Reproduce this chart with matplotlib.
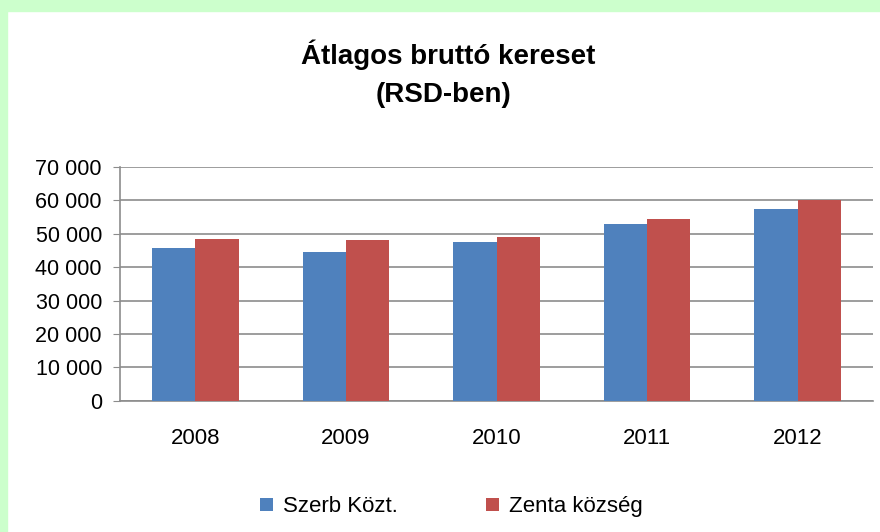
import matplotlib.pyplot as plt
import numpy as np
from matplotlib.patches import Rectangle
from matplotlib.ticker import FuncFormatter

years = ["2008", "2009", "2010", "2011", "2012"]
szerb = [45800, 44600, 47400, 53000, 57500]
zenta = [48500, 48000, 49100, 54300, 60000]
series_names = ["Szerb Közt.", "Zenta község"]
colors = ["#4F81BD", "#C0504D"]

plt.rcParams["font.family"] = ["Liberation Sans", "DejaVu Sans"]

fig = plt.figure(figsize=(8.8, 5.32), dpi=100)

# green frame on top and left
fig.patches.append(Rectangle((0, 1 - 11 / 532), 1, 11 / 532, transform=fig.transFigure,
                             color="#CCFFCC", zorder=0))
fig.patches.append(Rectangle((0, 0), 7 / 880, 1, transform=fig.transFigure,
                             color="#CCFFCC", zorder=0))

ax = fig.add_axes([120 / 880, 1 - 400.7 / 532, 753 / 880, 233.7 / 532])

x = np.arange(len(years))
w = 0.288
ax.bar(x - w / 2, szerb, w, color=colors[0], label=series_names[0], zorder=3)
ax.bar(x + w / 2, zenta, w, color=colors[1], label=series_names[1], zorder=3)

ax.set_xlim(-0.5, len(years) - 0.5)
ax.set_ylim(0, 70000)
ax.set_yticks(range(0, 70001, 10000))
ax.yaxis.set_major_formatter(FuncFormatter(lambda v, p: f"{int(v):,}".replace(",", " ")))
ax.set_xticks(x)
ax.set_xticklabels(years)
ax.grid(axis="y", color="#8C8C8C", linewidth=1.2, zorder=0)

for side in ["top", "right"]:
    ax.spines[side].set_visible(False)
for side in ["left", "bottom"]:
    ax.spines[side].set_color("#8C8C8C")
    ax.spines[side].set_linewidth(1.2)

ax.tick_params(axis="y", length=5, color="#8C8C8C", labelsize=15.5, pad=8)
ax.tick_params(axis="x", length=0, labelsize=16, pad=20)

fig.text(0.509, 0.897, "Átlagos bruttó kereset", ha="center", va="center",
         fontsize=20, fontweight="bold")
fig.text(0.504, 0.821, "(RSD-ben)", ha="center", va="center",
         fontsize=20, fontweight="bold")

fig.legend(loc="center", bbox_to_anchor=(0.513, 0.047), ncol=2, frameon=False,
           fontsize=16, handlelength=0.55, handleheight=0.55, handletextpad=0.45,
           columnspacing=4.0)

fig.savefig("out.png", dpi=100)
